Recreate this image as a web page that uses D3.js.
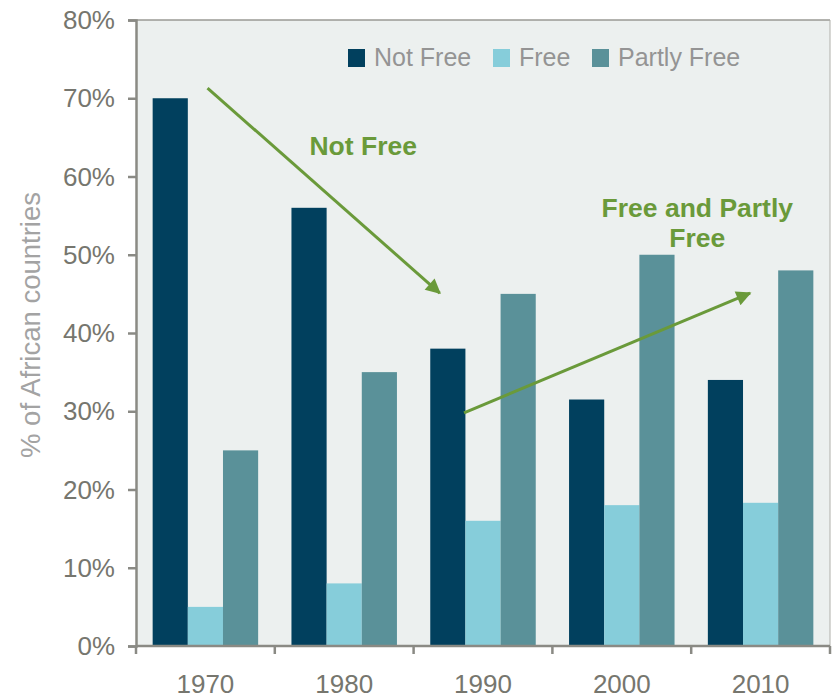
<!DOCTYPE html>
<html>
<head>
<meta charset="utf-8">
<script src="https://cdn.jsdelivr.net/npm/d3@7"></script>
<style>
  html, body { margin: 0; padding: 0; background: #ffffff; }
  svg { display: block; font-family: "Liberation Sans", Arial, sans-serif; }
</style>
</head>
<body>
<svg id="chart" width="833" height="698"></svg>
<script>
// ---- data ----
const years = ["1970", "1980", "1990", "2000", "2010"];
const seriesNames = ["Not Free", "Free", "Partly Free"];
const notFree = [70, 56, 38, 31.5, 34];
const free = [5, 8, 16, 18, 18.3];
const partlyFree = [25, 35, 45, 50, 48];
const yTicks = [0, 10, 20, 30, 40, 50, 60, 70, 80];
const seriesColors = ["#01405e", "#86cdda", "#5a9199"];
// annotations: [year, fraction of band, value %]
const arrows = [
  { from: ["1970", 0.52, 71.3], to: ["1990", 0.09, 45.1] },
  { from: ["1990", 0.32, 29.8], to: ["2010", 0.40, 45.1] }
];
const notes = [
  { lines: ["Not Free"], at: ["1980", 0.68, 62.7] },
  { lines: ["Free and Partly", "Free"], at: ["2010", -0.10, 54.8] }
];

// ---- layout ----
const svg = d3.select("#chart");
const mLeft = 136, mRight = 830, mTop = 20, mBottom = 646;

const x = d3.scaleBand().domain(years).range([mLeft, mRight])
  .paddingInner(0.24).paddingOuter(0.12);
const x1 = d3.scaleBand().domain(seriesNames).range([0, x.bandwidth()]);
const y = d3.scaleLinear().domain([0, 80]).range([mBottom, mTop]);

const axisColor = "#8a8a84";
const tickTextColor = "#76766e";

// plot background
svg.append("rect").attr("x", mLeft).attr("y", mTop)
  .attr("width", mRight - mLeft).attr("height", mBottom - mTop)
  .attr("fill", "#ecf0ef");
// top / right border
svg.append("line").attr("x1", mLeft).attr("x2", mRight).attr("y1", mTop).attr("y2", mTop)
  .attr("stroke", "#9a9a94").attr("stroke-width", 1.5);
svg.append("line").attr("x1", mRight).attr("x2", mRight).attr("y1", mTop).attr("y2", mBottom)
  .attr("stroke", "#b0b0aa").attr("stroke-width", 1);

// bars
const values = [notFree, free, partlyFree];
const g = svg.append("g");
years.forEach((yr, i) => {
  seriesNames.forEach((s, j) => {
    g.append("rect")
      .attr("x", x(yr) + x1(s))
      .attr("y", y(values[j][i]))
      .attr("width", x1.bandwidth())
      .attr("height", y(0) - y(values[j][i]))
      .attr("fill", seriesColors[j]);
  });
});

// y axis
const yAxis = d3.axisLeft(y).tickValues(yTicks).tickFormat(d => d + "%")
  .tickSize(8).tickPadding(13);
const ya = svg.append("g").attr("transform", `translate(${mLeft},0)`).call(yAxis);
ya.select(".domain").attr("stroke", axisColor).attr("stroke-width", 2.5);
ya.selectAll(".tick line").attr("stroke", axisColor).attr("stroke-width", 2.5);
ya.selectAll(".tick text").attr("fill", tickTextColor)
  .style("font-size", "26px").attr("dy", "0.33em");

// x axis
const xAxis = d3.axisBottom(x).tickSize(0).tickPadding(0);
const xa = svg.append("g").attr("transform", `translate(0,${mBottom})`).call(xAxis);
xa.select(".domain").remove();
xa.append("line").attr("x1", mLeft).attr("x2", mRight).attr("y1", 0).attr("y2", 0)
  .attr("stroke", axisColor).attr("stroke-width", 2.5);
const boundaries = years.map(d => x(d) - x.step() * x.paddingOuter()).concat([mRight]);
xa.selectAll(".bound").data(boundaries).enter().append("line")
  .attr("x1", d => d).attr("x2", d => d).attr("y1", 0).attr("y2", 8)
  .attr("stroke", axisColor).attr("stroke-width", 2.5);
xa.selectAll(".tick text").attr("fill", tickTextColor)
  .style("font-size", "26px").attr("y", 47).attr("dy", 0);

// y title
svg.append("text")
  .attr("transform", `translate(40,${(190 + 460) / 2}) rotate(-90)`)
  .attr("text-anchor", "middle")
  .attr("fill", "#a3a3a3")
  .style("font-size", "27.5px")
  .text("% of African countries");

// legend
const legendX = [348, 493, 592];
seriesNames.forEach((s, j) => {
  svg.append("rect").attr("x", legendX[j]).attr("y", 49)
    .attr("width", 17).attr("height", 18).attr("fill", seriesColors[j]);
  svg.append("text").attr("x", legendX[j] + 26).attr("y", 66)
    .attr("fill", "#949494").style("font-size", "25px").text(s);
});

// annotations
const green = "#6a9a3a";
const px = a => x(a[0]) + a[1] * x.bandwidth();
const py = a => y(a[2]);
const defs = svg.append("defs");
defs.append("marker").attr("id", "ah")
  .attr("viewBox", "0 0 10 10").attr("refX", 9).attr("refY", 5)
  .attr("markerUnits", "userSpaceOnUse")
  .attr("markerWidth", 19).attr("markerHeight", 15)
  .attr("orient", "auto")
  .append("path").attr("d", "M0,0 L10,5 L0,10 z").attr("fill", green);

arrows.forEach(a => {
  svg.append("line")
    .attr("x1", px(a.from)).attr("y1", py(a.from))
    .attr("x2", px(a.to)).attr("y2", py(a.to))
    .attr("stroke", green).attr("stroke-width", 3)
    .attr("marker-end", "url(#ah)");
});

notes.forEach(n => {
  const t = svg.append("text")
    .attr("x", px(n.at)).attr("y", py(n.at))
    .attr("text-anchor", "middle").attr("fill", green)
    .style("font-size", "26.5px").style("font-weight", "bold");
  n.lines.forEach((l, i) => {
    t.append("tspan").attr("x", px(n.at)).attr("dy", i === 0 ? 0 : 30).text(l);
  });
});
</script>
</body>
</html>
